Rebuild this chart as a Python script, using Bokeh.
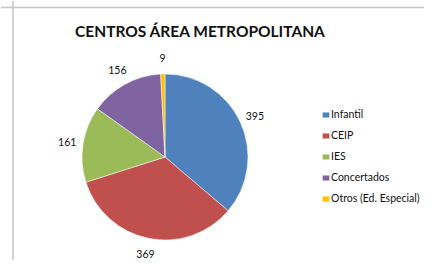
import math
from bokeh.plotting import figure
from bokeh.models import ColumnDataSource, Range1d, Legend, LegendItem, Span, Label
from bokeh.core.properties import value
from bokeh.embed import file_html
from bokeh.resources import INLINE

categories = ["Infantil", "CEIP", "IES", "Concertados", "Otros (Ed. Especial)"]
counts = [395, 369, 161, 156, 9]
colors = ["#4F81BD", "#C0504D", "#9BBB59", "#8064A2", "#FFC000"]
title_text = "CENTROS ÁREA METROPOLITANA"

W, H = 424, 260
cx, cy = 164.5, 103.5
R = 83
RL = 99

total = sum(counts)
starts, ends, lx, ly, labels = [], [], [], [], []
acc = 0
for c in counts:
    a0 = math.pi / 2 - 2 * math.pi * acc / total
    acc += c
    a1 = math.pi / 2 - 2 * math.pi * acc / total
    starts.append(a0)
    ends.append(a1)
    mid = (a0 + a1) / 2
    lx.append(cx + RL * math.cos(mid))
    ly.append(cy + RL * math.sin(mid))
    labels.append(str(c))

src = ColumnDataSource(dict(cat=categories, val=counts, color=colors,
                            start=starts, end=ends, lx=lx, ly=ly, lab=labels))

p = figure(width=W, height=H, output_backend="svg", toolbar_location=None,
           x_range=Range1d(0, W), y_range=Range1d(0, H),
           min_border=0, min_border_left=0, min_border_right=0,
           min_border_top=0, min_border_bottom=0)
p.axis.visible = False
p.grid.visible = False
p.outline_line_color = None
p.background_fill_color = "white"
p.border_fill_color = "white"

# chart frame (left and top edges visible)
p.add_layout(Span(location=12.5, dimension="height", line_color="#C4C4C4", line_width=1.5))
p.add_layout(Span(location=253, dimension="width", line_color="#C4C4C4", line_width=1.5))

w = p.wedge(x=cx, y=cy, radius=R, start_angle="start", end_angle="end",
            direction="clock", fill_color="color", line_color="white",
            line_width=0.5, source=src)

p.text(x="lx", y="ly", text="lab", source=src, text_align="center",
       text_baseline="middle", text_font=value("Lato"), text_font_size="10.5px",
       text_color="#111111")

p.add_layout(Label(x=200, y=230, text=title_text, text_align="center",
                   text_baseline="middle", text_font="Lato",
                   text_font_style="bold", text_font_size="15.5px", text_color="#111111"))

items = [LegendItem(label=categories[i], renderers=[w], index=i) for i in range(len(categories))]
legend = Legend(items=items, location=(321, 54), orientation="vertical",
                padding=0, margin=0, spacing=5, label_height=16, glyph_height=7,
                glyph_width=9, label_standoff=1, border_line_color=None,
                background_fill_alpha=0, label_text_font="Lato",
                label_text_font_size="10.5px", label_text_color="#111111")
p.add_layout(legend)

open("out.html", "w").write(file_html(p, INLINE))
